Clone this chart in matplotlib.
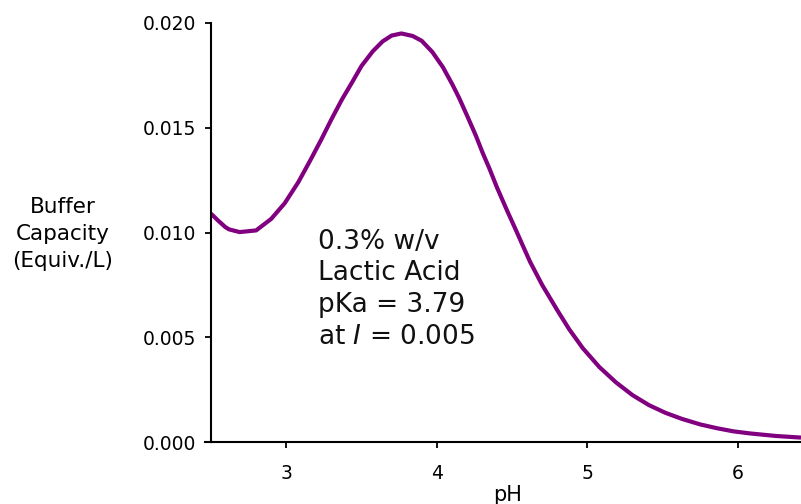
import numpy as np
import matplotlib
matplotlib.use("Agg")
import matplotlib.pyplot as plt
from matplotlib.lines import Line2D

# --- data ---
ph = [2.50, 2.55, 2.595, 2.62, 2.69, 2.80, 2.90, 2.99, 3.08, 3.16, 3.23,
      3.30, 3.37, 3.44, 3.50, 3.575, 3.64, 3.70, 3.765, 3.84, 3.90, 3.97,
      4.04, 4.105, 4.15, 4.205, 4.26, 4.305, 4.35, 4.40, 4.47, 4.53, 4.57,
      4.62, 4.70, 4.80, 4.88, 4.97, 5.08, 5.19, 5.30, 5.41, 5.52, 5.63,
      5.75, 5.86, 5.97, 6.08, 6.25, 6.42]
buffer_capacity = [0.01090, 0.01055, 0.01026, 0.01015, 0.01002, 0.01010,
                   0.01065, 0.01140, 0.01240, 0.01345, 0.01440, 0.01540,
                   0.01635, 0.01720, 0.01795, 0.01865, 0.01912, 0.01940,
                   0.01950, 0.01938, 0.01915, 0.01862, 0.01790, 0.01705,
                   0.01640, 0.01552, 0.01462, 0.01380, 0.01305, 0.01215,
                   0.01100, 0.01005, 0.00940, 0.00860, 0.00750, 0.00630,
                   0.00538, 0.00448, 0.00358, 0.00285, 0.00224, 0.00176,
                   0.00139, 0.00110, 0.00084, 0.00066, 0.00051, 0.00041,
                   0.00029, 0.00021]
x_ticks = [3, 4, 5, 6]
y_ticks = [0.000, 0.005, 0.010, 0.015, 0.020]
note_lines = ["0.3% w/v", "Lactic Acid", "pKa = 3.79", "at $\\mathit{I}$ = 0.005"]

plt.rcParams['font.family'] = ['DejaVu Sans']
plt.rcParams['mathtext.fontset'] = 'dejavusans'

fig = plt.figure(figsize=(8.01, 5.04), dpi=100)
ax = fig.add_axes([211 / 801, 62 / 504, 590 / 801, 419 / 504])

ax.plot(ph, buffer_capacity, color='#800080', lw=3.0,
        solid_joinstyle='round', solid_capstyle='butt')

ax.set_xlim(2.5, 6.42)
ax.set_ylim(0.0, 0.020)
ax.set_xticks(x_ticks)
ax.set_yticks(y_ticks)
ax.set_yticklabels(["%.3f" % v for v in y_ticks])

for side in ['top', 'right']:
    ax.spines[side].set_visible(False)
for side in ['left', 'bottom']:
    ax.spines[side].set_linewidth(1.5)
    ax.spines[side].set_color('black')

ax.tick_params(axis='both', direction='out', length=4.5, width=1.3,
               labelsize=13.5, colors='black')
ax.tick_params(axis='x', pad=11)
ax.tick_params(axis='y', pad=6)

# x axis line sticks out a bit past the y axis
fig.add_artist(Line2D([204.5 / 801, 212 / 801], [62 / 504, 62 / 504],
                      color='black', lw=1.5, transform=fig.transFigure))

# annotation text
note_y = [0.00955, 0.00807, 0.00654, 0.00501]
for line, yv in zip(note_lines, note_y):
    ax.text(3.21, yv, line, fontsize=19, va='center', ha='left', color='#111111')

fig.text(63 / 801, 1 - 234 / 504, "Buffer\nCapacity\n(Equiv./L)", fontsize=15.5,
         ha='center', va='center', multialignment='center', linespacing=1.45)
fig.text(508 / 801, 1 - 495 / 504, "pH", fontsize=15, ha='center', va='center')

fig.savefig("out.png", dpi=100)
